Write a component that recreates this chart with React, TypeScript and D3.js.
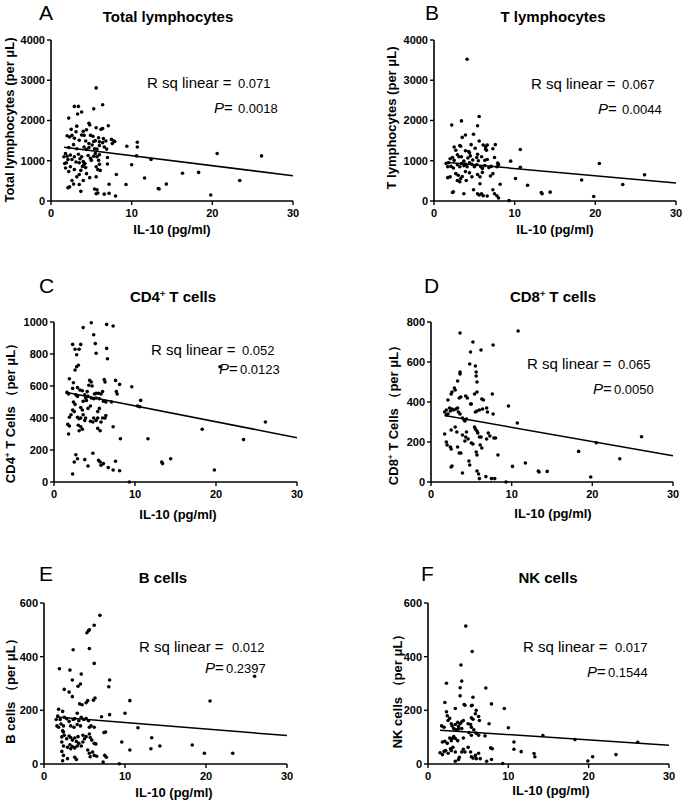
import React from "react";
import * as d3 from "d3";

type Pt = [number, number];

const xTicks = [0, 10, 20, 30];

const totalLymphocytes: Pt[] = [
  [5.6,2810],[6.4,2390],[2.9,2350],[3.4,2350],[5.3,2290],[3.8,2210],[3.3,2160],[2.2,2060],[4.7,1930],[4.8,1890],
  [7.1,1870],[3.2,1860],[2.5,1780],[5.6,1820],[6.4,1800],[6.2,1780],[3.1,1720],[4.0,1730],[4.4,1770],[2.0,1620],
  [2.3,1590],[2.6,1630],[3.8,1640],[4.1,1630],[4.9,1630],[5.2,1610],[5.9,1570],[2.9,1560],[3.5,1510],[4.3,1490],
  [6.5,1550],[7.5,1530],[7.8,1490],[2.8,1400],[4.7,1430],[5.3,1480],[5.5,1500],[6.0,1470],[6.4,1450],[6.8,1490],
  [6.0,1380],[7.6,1430],[7.9,1480],[2.2,1330],[3.2,1300],[4.1,1340],[4.4,1280],[4.7,1330],[5.1,1390],[5.4,1300],
  [5.7,1290],[6.6,1340],[6.9,1290],[9.4,1360],[10.7,1340],[10.7,1460],[1.6,1100],[1.8,1180],[2.0,1110],[2.1,1030],
  [2.4,1140],[2.6,1030],[2.9,1100],[3.1,970],[3.4,1160],[3.6,1050],[3.8,1100],[4.0,980],[4.2,930],[4.6,1130],
  [4.9,1060],[5.0,1010],[5.3,1110],[5.5,1180],[5.7,1100],[5.9,1010],[6.0,1150],[7.0,1080],[1.7,930],[1.9,950],
  [2.2,730],[2.4,850],[2.9,780],[3.5,950],[3.7,760],[3.9,860],[4.1,910],[4.3,830],[5.6,850],[5.8,780],
  [6.0,910],[7.0,920],[10.0,900],[1.8,820],[3.2,600],[3.5,660],[4.0,510],[4.4,680],[5.6,600],[6.1,760],
  [8.1,660],[4.8,580],[2.6,510],[2.8,420],[2.3,350],[2.1,330],[3.5,410],[3.7,240],[5.4,300],[5.7,280],
  [5.8,200],[5.6,180],[7.2,415],[6.6,170],[7.2,190],[8.0,125],[9.3,410],[10.6,1120],[12.4,1030],[11.6,570],
  [13.3,310],[13.4,300],[14.3,420],[16.3,690],[18.3,710],[19.8,150],[20.6,1180],[23.4,510],[26.1,1120]
];

const tLymphocytes: Pt[] = [
  [4.1,3520],[5.6,2100],[3.4,1990],[2.2,1890],[5.4,1870],[4.9,1660],[3.9,1640],[3.5,1580],[3.2,1380],[3.3,1360],
  [4.6,1400],[5.6,1490],[6.1,1390],[6.4,1350],[6.6,1390],[7.6,1400],[2.5,1340],[2.7,1260],[5.1,1310],[3.9,1250],
  [4.3,1230],[6.4,1290],[6.5,1260],[4.4,1200],[5.4,1160],[2.9,1150],[3.1,1100],[7.3,1300],[2.0,1050],[2.3,1080],
  [2.5,1010],[3.4,1100],[3.7,990],[4.2,1070],[4.5,1120],[4.8,1020],[5.3,1080],[5.5,1000],[5.9,1100],[6.3,1010],
  [6.6,1030],[7.5,1080],[7.9,940],[9.5,990],[10.7,1280],[10.7,840],[1.5,930],[1.7,850],[1.8,950],[2.1,860],
  [2.4,820],[2.9,900],[3.2,850],[3.4,930],[3.7,880],[3.9,910],[4.1,850],[4.4,950],[4.7,910],[5.0,850],
  [5.3,900],[5.8,850],[6.0,810],[6.3,880],[6.8,830],[7.1,860],[7.8,850],[8.0,900],[1.7,580],[2.0,600],
  [2.7,680],[3.0,640],[3.3,560],[3.5,610],[3.9,730],[4.4,700],[4.7,600],[5.4,660],[5.7,600],[6.0,710],
  [7.0,620],[7.3,680],[10.1,560],[2.9,510],[3.2,480],[4.0,510],[5.7,430],[8.2,415],[2.3,210],[2.4,230],
  [3.7,180],[4.9,280],[5.4,180],[5.6,150],[5.9,180],[6.1,130],[6.6,125],[7.3,280],[7.5,180],[7.8,130],
  [8.0,75],[9.3,10],[11.6,390],[13.3,210],[13.4,180],[14.4,220],[18.3,520],[19.8,110],[20.5,930],[23.4,410],
  [26.1,650]
];

const cd4Cells: Pt[] = [
  [4.6,995],[6.5,985],[7.3,975],[3.6,965],[4.9,920],[5.1,865],[2.3,860],[2.6,830],[3.1,830],[3.3,860],
  [2.8,795],[5.2,805],[6.5,835],[6.6,770],[3.0,730],[2.8,720],[2.6,700],[1.9,645],[2.4,620],[2.3,585],
  [4.4,635],[4.6,625],[4.3,605],[4.7,600],[6.2,640],[6.3,625],[7.6,635],[8.1,610],[9.6,595],[3.2,575],
  [3.5,570],[2.9,590],[4.1,565],[5.0,550],[5.2,555],[5.5,555],[5.8,550],[6.0,565],[1.6,560],[1.8,550],
  [7.7,565],[7.8,550],[2.7,545],[2.9,535],[3.8,545],[3.9,525],[4.2,535],[4.6,525],[4.9,520],[5.2,525],
  [5.6,520],[6.1,505],[6.4,500],[3.6,505],[4.0,510],[2.4,500],[2.6,485],[7.1,500],[10.3,475],[10.7,510],
  [10.6,470],[5.6,460],[5.4,440],[4.5,475],[4.2,460],[3.3,465],[3.5,450],[2.3,450],[2.5,440],[2.1,420],
  [1.9,405],[2.9,405],[3.1,395],[3.3,400],[3.6,420],[3.8,385],[3.9,400],[4.9,400],[5.2,385],[5.4,400],
  [5.8,375],[6.0,400],[6.3,400],[6.4,415],[1.7,360],[1.9,350],[3.0,355],[3.3,345],[4.5,380],[4.8,375],
  [5.4,335],[5.7,320],[7.3,345],[1.8,300],[3.1,320],[3.5,330],[8.2,270],[2.7,170],[2.9,145],[2.5,125],
  [3.8,140],[4.2,100],[4.8,180],[5.5,135],[5.7,125],[5.8,105],[6.1,115],[2.3,50],[6.7,90],[7.3,75],
  [7.6,130],[8.1,70],[9.3,0],[11.6,270],[13.3,125],[13.4,115],[14.4,145],[18.3,330],[19.8,75],[20.5,720],
  [23.4,265],[26.1,375]
];

const cd8Cells: Pt[] = [
  [3.6,745],[5.2,700],[7.7,685],[6.2,660],[4.9,650],[10.8,755],[4.8,590],[5.5,580],[5.6,550],[3.6,550],
  [3.6,540],[5.6,530],[3.3,505],[2.9,470],[3.0,460],[2.6,450],[2.5,440],[5.7,500],[5.7,450],[5.4,440],
  [2.1,410],[3.5,420],[3.7,425],[4.3,430],[4.5,420],[4.9,390],[5.0,390],[6.3,415],[6.5,410],[7.6,440],
  [2.3,370],[2.4,355],[2.6,365],[2.8,360],[3.1,365],[3.3,370],[3.4,350],[3.6,340],[1.7,350],[1.9,360],
  [3.9,320],[4.1,310],[4.4,315],[5.5,350],[5.7,355],[6.0,360],[6.4,365],[6.9,370],[7.0,350],[7.7,340],
  [1.9,335],[2.1,340],[4.2,305],[9.6,380],[10.7,295],[1.7,240],[2.5,260],[3.0,275],[3.2,250],[3.9,235],
  [4.3,225],[4.4,250],[4.6,215],[5.4,275],[5.5,265],[5.7,255],[5.8,245],[6.0,225],[6.2,225],[7.1,245],
  [7.3,230],[7.8,220],[8.0,220],[1.9,200],[2.0,185],[2.4,175],[2.5,165],[3.3,175],[3.5,145],[3.7,145],
  [4.2,205],[5.0,195],[5.2,190],[5.6,150],[5.7,135],[6.1,185],[6.3,170],[6.9,215],[8.3,135],[2.5,75],
  [2.6,80],[3.9,45],[4.7,105],[4.8,85],[5.7,55],[5.9,40],[6.0,17],[6.8,27],[7.5,17],[7.9,17],
  [9.3,0],[10.1,78],[11.7,95],[13.3,55],[13.4,50],[14.4,53],[18.3,153],[19.8,25],[20.5,196],[23.4,116],
  [26.1,226]
];

const bCells: Pt[] = [
  [6.9,554],[6.2,517],[5.5,497],[5.6,500],[5.3,489],[3.6,426],[5.6,430],[6.2,375],[1.9,355],[3.2,350],
  [3.5,313],[8.1,313],[4.6,335],[4.2,290],[4.5,298],[2.5,278],[3.1,268],[3.5,251],[8.0,288],[6.3,246],
  [6.1,238],[10.6,236],[5.2,228],[5.4,236],[4.4,224],[4.7,221],[10.0,189],[1.8,204],[2.3,196],[4.1,189],
  [1.7,179],[1.5,166],[2.0,166],[2.5,174],[2.8,169],[3.1,159],[3.6,166],[3.8,169],[4.3,161],[4.6,174],
  [4.9,166],[5.2,169],[5.5,161],[7.1,176],[8.1,184],[2.1,149],[2.4,142],[1.6,142],[1.8,137],[3.3,142],
  [3.7,137],[4.1,147],[4.5,142],[5.6,137],[5.8,142],[6.2,137],[7.4,117],[7.6,119],[2.3,124],[2.4,119],
  [2.5,107],[2.2,101],[2.8,94],[3.1,104],[3.3,99],[3.5,89],[3.8,97],[4.0,84],[4.2,102],[4.8,107],
  [5.0,94],[5.2,102],[5.6,112],[5.7,99],[5.9,89],[6.2,77],[6.4,75],[2.2,82],[2.4,67],[2.9,62],
  [3.2,72],[3.3,57],[3.5,65],[3.8,60],[4.1,67],[4.3,77],[4.6,67],[4.8,82],[5.4,52],[5.6,40],
  [5.7,27],[6.0,45],[6.2,32],[2.2,47],[2.4,32],[2.3,12],[2.9,20],[3.8,25],[4.0,17],[6.5,29],
  [7.5,32],[7.7,25],[7.3,7],[9.3,1],[9.6,82],[10.6,52],[11.6,135],[13.3,98],[13.2,57],[14.3,67],
  [18.3,71],[19.8,40],[20.5,235],[23.3,40],[26.0,327]
];

const nkCells: Pt[] = [
  [4.7,514],[5.5,419],[4.1,369],[2.3,301],[4.2,309],[4.0,284],[7.2,283],[4.0,254],[5.6,249],[2.1,229],
  [4.5,222],[4.6,219],[5.4,217],[5.5,219],[7.9,224],[9.5,207],[2.3,195],[3.4,207],[5.9,187],[6.0,200],
  [2.4,180],[2.7,170],[2.5,162],[5.4,172],[5.6,167],[6.3,177],[6.4,162],[3.7,155],[4.2,157],[4.4,162],
  [2.9,150],[3.0,142],[5.0,150],[5.3,147],[7.6,150],[1.7,142],[2.0,137],[3.4,147],[3.8,140],[4.0,150],
  [3.2,132],[3.5,127],[3.8,130],[4.2,132],[5.7,127],[5.4,137],[6.0,115],[6.3,107],[7.1,105],[10.0,135],
  [10.7,82],[1.8,82],[2.1,85],[2.4,77],[2.7,97],[2.9,87],[3.0,95],[3.2,102],[3.4,95],[3.7,87],
  [4.4,97],[5.1,117],[5.4,107],[8.0,57],[7.8,60],[10.7,55],[1.5,42],[1.8,35],[2.0,47],[2.2,50],
  [2.5,40],[2.8,57],[2.9,50],[3.1,62],[3.4,45],[4.2,45],[4.4,55],[4.6,45],[5.0,62],[5.3,45],
  [5.4,27],[5.6,22],[5.9,32],[6.0,20],[6.3,40],[6.5,20],[3.8,17],[3.9,25],[7.3,10],[7.9,17],
  [9.3,2],[3.4,10],[11.6,46],[13.2,39],[13.3,27],[14.3,106],[18.3,91],[19.9,11],[20.5,27],[23.4,35],
  [26.1,81]
];

const rsqValues = ["0.071", "0.067", "0.052", "0.065", "0.012", "0.017"];
const pValues = ["0.0018", "0.0044", "0.0123", "0.0050", "0.2397", "0.1544"];
const fitIntercepts = [1375, 987, 575, 344, 178.6, 129];
const fitSlopes = [-24.9, -18, -9.93, -7.09, -2.42, -1.96];
const yMaxes = [4000, 4000, 1000, 800, 600, 600];
const yTickSteps = [1000, 1000, 200, 200, 200, 200];
const panelLetters = ["A", "B", "C", "D", "E", "F"];
const datasets = [totalLymphocytes, tLymphocytes, cd4Cells, cd8Cells, bCells, nkCells];

const FONT = "'Liberation Sans', Arial, Helvetica, sans-serif";

type Layout = {
  lx: number; ly: number; x0: number; x1: number; yT: number; yB: number;
  tX: number; tY: number; ylX: number; ylY: number; xlX: number; xlY: number;
  rX: number; rY: number; rvX: number; pX: number; pY: number; pvX: number;
};

const layouts: Layout[] = [
  { lx: 39, ly: 20, x0: 51, x1: 293, yT: 40, yB: 201, tX: 168, tY: 22, ylX: 14, ylY: 120, xlX: 172, xlY: 234, rX: 147, rY: 88, rvX: 238, pX: 214, pY: 113, pvX: 238 },
  { lx: 425, ly: 20, x0: 434, x1: 676, yT: 40, yB: 201, tX: 553, tY: 22, ylX: 396, ylY: 118, xlX: 555, xlY: 234, rX: 531, rY: 89, rvX: 622, pX: 598, pY: 114, pvX: 622 },
  { lx: 39, ly: 293, x0: 54, x1: 297, yT: 322, yB: 482, tX: 173, tY: 302, ylX: 15, ylY: 410, xlX: 178, xlY: 519, rX: 151, rY: 355, rvX: 242, pX: 219, pY: 374, pvX: 240 },
  { lx: 424, ly: 293, x0: 431, x1: 673, yT: 322, yB: 482, tX: 553, tY: 302, ylX: 398, ylY: 412, xlX: 553, xlY: 518, rX: 527, rY: 369, rvX: 618, pX: 593, pY: 394, pvX: 614 },
  { lx: 39, ly: 581, x0: 44, x1: 287, yT: 603, yB: 764, tX: 163, tY: 583, ylX: 15, ylY: 688, xlX: 174, xlY: 797, rX: 139, rY: 652, rvX: 232, pX: 205, pY: 673, pvX: 226 },
  { lx: 421, ly: 581, x0: 428, x1: 669, yT: 603, yB: 764, tX: 548, tY: 583, ylX: 402, ylY: 688, xlX: 551, xlY: 795, rX: 523, rY: 652, rvX: 615, pX: 587, pY: 677, pvX: 608 },
];

function Title({ i, x, y }: { i: number; x: number; y: number }) {
  const common = { x, y, textAnchor: "middle" as const, fontFamily: FONT, fontWeight: 700, fontSize: 15, fill: "#000" };
  if (i === 2 || i === 3) {
    const n = i === 2 ? "4" : "8";
    return (
      <text {...common}>
        <tspan>{`CD${n}`}</tspan>
        <tspan dy={-5} fontSize={9}>+</tspan>
        <tspan dy={5}> T cells</tspan>
      </text>
    );
  }
  const names = ["Total lymphocytes", "T lymphocytes", "", "", "B cells", "NK cells"];
  return <text {...common}>{names[i]}</text>;
}

function YLabel({ i, x, y }: { i: number; x: number; y: number }) {
  const common = {
    transform: `translate(${x},${y}) rotate(-90)`,
    textAnchor: "middle" as const, fontFamily: FONT, fontWeight: 700, fontSize: 13, fill: "#000",
  };
  if (i === 0) return <text {...common}>Total lymphocytes (per μL)</text>;
  if (i === 1) return <text {...common}>T lymphocytes (per μL)</text>;
  if (i === 2 || i === 3) {
    const n = i === 2 ? "4" : "8";
    return (
      <text {...common}>
        <tspan>{`CD${n}`}</tspan>
        <tspan dy={-5} fontSize={8}>+</tspan>
        <tspan dy={5}> T Cells （per μL）</tspan>
      </text>
    );
  }
  if (i === 4) return <text {...common}>B cells （per μL）</text>;
  return <text {...common}>NK cells （per μL）</text>;
}

function Panel({ i }: { i: number }) {
  const L = layouts[i];
  const data = datasets[i];
  const x = d3.scaleLinear().domain([0, 30]).range([L.x0, L.x1]);
  const y = d3.scaleLinear().domain([0, yMaxes[i]]).range([L.yB, L.yT]);
  const yTicks = d3.range(0, yMaxes[i] + 1, yTickSteps[i]);
  const xMin = d3.min(data, (d) => d[0]) as number;
  const fit = (v: number) => fitIntercepts[i] + fitSlopes[i] * v;
  const line = d3.line<number>().x((v) => x(v)).y((v) => y(fit(v)));
  return (
    <g>
      <text x={L.lx} y={L.ly} fontFamily={FONT} fontSize={21} fill="#000">{panelLetters[i]}</text>
      <Title i={i} x={L.tX} y={L.tY} />
      <YLabel i={i} x={L.ylX} y={L.ylY} />
      <text x={L.xlX} y={L.xlY} textAnchor="middle" fontFamily={FONT} fontWeight={700} fontSize={13}>IL-10 (pg/ml)</text>
      <line x1={L.x0} x2={L.x0} y1={y(yMaxes[i])} y2={L.yB} stroke="#000" strokeWidth={1.6} />
      <line x1={L.x0} x2={L.x1} y1={L.yB} y2={L.yB} stroke="#000" strokeWidth={1.6} />
      {yTicks.map((t) => (
        <g key={`y${t}`}>
          <line x1={L.x0 - 4} x2={L.x0} y1={y(t)} y2={y(t)} stroke="#000" strokeWidth={1.4} />
          <text x={L.x0 - 6} y={y(t)} dy="0.36em" textAnchor="end" fontFamily={FONT} fontWeight={700} fontSize={11}>{t}</text>
        </g>
      ))}
      {xTicks.map((t) => (
        <g key={`x${t}`}>
          <line x1={x(t)} x2={x(t)} y1={L.yB} y2={L.yB + 4} stroke="#000" strokeWidth={1.4} />
          <text x={x(t)} y={L.yB + 16} textAnchor="middle" fontFamily={FONT} fontWeight={700} fontSize={11}>{t}</text>
        </g>
      ))}
      {data.map((d, k) => (
        <circle key={k} cx={x(d[0])} cy={y(d[1])} r={1.8} fill="#000" />
      ))}
      <path d={line([xMin, 30]) || ""} fill="none" stroke="#000" strokeWidth={1.5} />
      <text x={L.rX} y={L.rY} fontFamily={FONT} fontSize={15} fill="#000">R sq linear =</text>
      <text x={L.rvX} y={L.rY} fontFamily={FONT} fontSize={13} fill="#000">{rsqValues[i]}</text>
      <text x={L.pX} y={L.pY} fontFamily={FONT} fontSize={15} fill="#000">
        <tspan fontStyle="italic">P</tspan>
        <tspan>=</tspan>
      </text>
      <text x={L.pvX} y={L.pY} fontFamily={FONT} fontSize={13} fill="#000">{pValues[i]}</text>
    </g>
  );
}

export default function App() {
  return (
    <svg width={685} height={804} viewBox="0 0 685 804" style={{ position: "absolute", left: 0, top: 0, background: "#fff" }}>
      <rect width={685} height={804} fill="#fff" />
      {d3.range(6).map((i) => (
        <Panel key={i} i={i} />
      ))}
    </svg>
  );
}
